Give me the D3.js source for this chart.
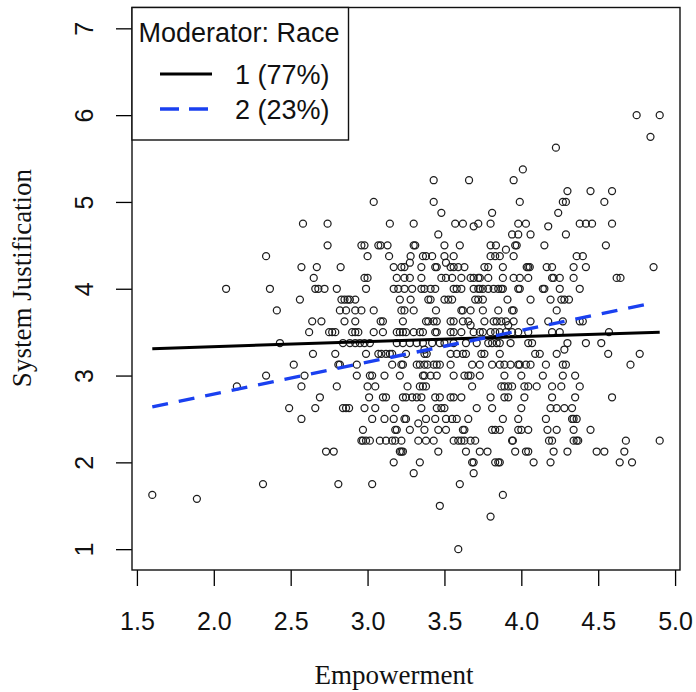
<!DOCTYPE html>
<html><head><meta charset="utf-8">
<script src="https://cdn.jsdelivr.net/npm/d3@7"></script>
<style>
html,body{margin:0;padding:0;background:#fff;}
svg{display:block;}
</style></head>
<body>
<svg id="chart" width="696" height="692"></svg>
<script>
// ---- DATA ----
const xTicks = [1.5, 2.0, 2.5, 3.0, 3.5, 4.0, 4.5, 5.0];
const yTicks = [1, 2, 3, 4, 5, 6, 7];
const xTitle = "Empowerment";
const yTitle = "System Justification";
const legendTitle = "Moderator: Race";
const legendLabels = ["1 (77%)", "2 (23%)"];

// System Justification levels (y) and the Empowerment values (x) observed at each level
const sjLevels = [6.0, 5.75, 5.625, 5.375, 5.25, 5.125, 5.0, 4.875, 4.75, 4.72, 4.625, 4.5, 4.45, 4.375, 4.3, 4.25, 4.125, 4.0,
  3.875, 3.75, 3.625, 3.58, 3.5, 3.375, 3.3, 3.25, 3.125, 3.0, 2.875, 2.75, 2.625, 2.5, 2.45, 2.375, 2.25, 2.125, 2.0,
  1.875, 1.75, 1.625, 1.58, 1.5, 1.375, 1.0];
const empByLevel = [
  [4.75, 4.90],
  [4.84],
  [4.225],
  [4.01],
  [3.43, 3.66, 3.95],
  [4.30, 4.45, 4.59],
  [3.04, 3.43, 3.99, 4.27, 4.29, 4.54],
  [3.48, 3.81, 4.24],
  [2.58, 2.74, 3.145, 3.30, 3.57, 3.62, 3.72, 3.80, 3.98, 4.03, 4.38, 4.42, 4.46, 4.59],
  [3.69, 4.175],
  [3.46, 3.94, 3.98, 4.06, 4.29],
  [2.74, 2.96, 2.98, 3.07, 3.085, 3.13, 3.30, 3.31, 3.50, 3.60, 3.80, 3.835, 3.96, 3.97, 4.15, 4.55],
  [3.90],
  [2.34, 3.00, 3.14, 3.28, 3.36, 3.38, 3.42, 3.50, 3.56, 3.80, 3.83, 3.86, 3.95, 4.36, 4.40],
  [3.275, 3.51],
  [2.57, 2.67, 2.825, 3.17, 3.22, 3.24, 3.35, 3.44, 3.45, 3.54, 3.56, 3.59, 3.63, 3.76, 3.785, 3.88, 4.035, 4.045, 4.055, 4.165, 4.20, 4.34, 4.42, 4.86],
  [2.65, 2.98, 3.00, 3.19, 3.24, 3.275, 3.35, 3.48, 3.51, 3.55, 3.61, 3.67, 3.69, 3.72, 3.73, 3.785, 3.88, 3.95, 3.99, 4.045, 4.20, 4.21, 4.25, 4.34, 4.62, 4.645],
  [2.08, 2.365, 2.66, 2.68, 2.72, 2.80, 2.99, 3.17, 3.20, 3.24, 3.29, 3.35, 3.37, 3.41, 3.44, 3.56, 3.58, 3.61, 3.69, 3.72, 3.73, 3.75, 3.785, 3.82, 3.85, 3.87, 3.88, 3.98, 3.99, 4.14, 4.15, 4.25, 4.38],
  [2.56, 2.83, 2.85, 2.87, 2.885, 2.92, 3.21, 3.28, 3.395, 3.41, 3.50, 3.525, 3.55, 3.70, 3.72, 3.75, 3.91, 4.06, 4.19, 4.26, 4.28, 4.31],
  [2.41, 2.82, 2.86, 2.92, 2.96, 3.04, 3.22, 3.24, 3.30, 3.445, 3.61, 3.62, 3.67, 3.75, 3.85, 3.94, 3.95, 4.23],
  [2.64, 2.70, 2.85, 2.92, 3.085, 3.10, 3.23, 3.38, 3.395, 3.43, 3.45, 3.54, 3.56, 3.62, 3.655, 3.76, 3.82, 3.84, 3.87, 3.90, 3.95, 4.06, 4.175, 4.27, 4.38, 4.40],
  [3.67, 3.915],
  [2.62, 2.75, 2.77, 2.79, 2.90, 2.92, 2.94, 3.04, 3.10, 3.19, 3.21, 3.23, 3.25, 3.30, 3.34, 3.36, 3.44, 3.45, 3.54, 3.56, 3.61, 3.69, 3.73, 3.75, 3.80, 3.83, 3.86, 3.90, 3.94, 3.98, 4.045, 4.20, 4.25, 4.57],
  [2.43, 2.84, 2.885, 2.92, 2.95, 2.98, 3.015, 3.19, 3.23, 3.275, 3.32, 3.36, 3.42, 3.47, 3.50, 3.56, 3.64, 3.71, 3.785, 3.81, 3.84, 3.86, 3.93, 4.045, 4.07, 4.30, 4.42, 4.52],
  [3.37, 4.28],
  [2.645, 2.79, 2.99, 3.07, 3.09, 3.12, 3.145, 3.16, 3.25, 3.37, 3.385, 3.54, 3.58, 3.62, 3.64, 3.74, 3.76, 3.86, 4.09, 4.12, 4.23, 4.565, 4.77],
  [2.52, 2.81, 2.82, 2.93, 3.16, 3.22, 3.23, 3.32, 3.34, 3.37, 3.39, 3.43, 3.45, 3.47, 3.54, 3.68, 3.73, 3.81, 3.86, 3.89, 3.93, 3.98, 3.99, 4.03, 4.06, 4.16, 4.27, 4.29, 4.71],
  [2.34, 2.59, 2.93, 3.015, 3.03, 3.11, 3.21, 3.36, 3.37, 3.41, 3.45, 3.56, 3.63, 3.655, 3.67, 3.73, 3.89, 4.00, 4.14, 4.27, 4.35],
  [2.15, 2.57, 2.80, 3.00, 3.05, 3.26, 3.34, 3.36, 3.38, 3.68, 3.87, 3.89, 3.915, 3.94, 4.02, 4.045, 4.10, 4.20, 4.26, 4.38],
  [2.69, 3.01, 3.10, 3.12, 3.23, 3.25, 3.29, 3.32, 3.35, 3.44, 3.47, 3.54, 3.56, 3.61, 3.80, 3.89, 3.915, 4.02, 4.20, 4.35, 4.59],
  [2.49, 2.66, 2.84, 2.86, 2.88, 2.98, 3.05, 3.18, 3.35, 3.45, 3.48, 3.50, 3.71, 3.81, 4.00, 4.19, 4.23, 4.28, 4.33],
  [2.57, 3.03, 3.11, 3.17, 3.24, 3.25, 3.38, 3.44, 3.51, 3.55, 3.58, 3.655, 3.88, 3.98, 4.16, 4.33, 4.34, 4.36],
  [3.33],
  [2.97, 3.18, 3.19, 3.275, 3.37, 3.46, 3.51, 3.62, 3.63, 3.81, 3.83, 3.86, 3.98, 4.00, 4.045, 4.17, 4.23, 4.34, 4.45],
  [2.96, 2.97, 2.99, 3.015, 3.08, 3.12, 3.16, 3.18, 3.22, 3.33, 3.38, 3.43, 3.56, 3.59, 3.61, 3.63, 3.67, 3.70, 3.94, 3.945, 4.18, 4.20, 4.34, 4.36, 4.37, 4.68, 4.90],
  [2.73, 2.78, 3.21, 3.22, 3.23, 3.46, 3.64, 3.73, 3.78, 3.96, 4.03, 4.045, 4.21, 4.30, 4.49, 4.54, 4.67],
  [3.17, 3.34, 3.68, 3.69, 3.83, 3.85, 3.86, 4.08, 4.19, 4.64, 4.72],
  [3.30, 3.69],
  [2.32, 2.81, 3.03, 3.60],
  [1.60, 3.88],
  [1.89],
  [3.47],
  [3.80],
  [3.59]
];

// Simple-slope lines for the two moderator groups
const lineX1 = [1.6, 4.9];
const lineY1 = [3.31, 3.50];   // group 1 (77%)
const lineX2 = [1.6, 4.84];
const lineY2 = [2.64, 3.83];   // group 2 (23%)

// ---- DRAW ----
const svg = d3.select("#chart");
const L = 132, R = 680, T = 7.5, B = 570;
const x = d3.scaleLinear().domain([1.468, 5.032]).range([L, R]);
const y = d3.scaleLinear().domain([0.76, 7.24]).range([B, T]);

const points = [];
sjLevels.forEach((lv, i) => empByLevel[i].forEach(e => points.push({x: e, y: lv})));

svg.append("g").selectAll("circle").data(points).enter().append("circle")
  .attr("cx", d => x(d.x)).attr("cy", d => y(d.y)).attr("r", 3.5)
  .attr("fill", "none").attr("stroke", "#1e1e1e").attr("stroke-width", 1.25);

const line = d3.line().x(d => x(d[0])).y(d => y(d[1]));
svg.append("path").datum(lineX1.map((v, i) => [v, lineY1[i]])).attr("d", line)
  .attr("fill", "none").attr("stroke", "#000").attr("stroke-width", 3);
svg.append("path").datum(lineX2.map((v, i) => [v, lineY2[i]])).attr("d", line)
  .attr("fill", "none").attr("stroke", "#1a40f0").attr("stroke-width", 3.4)
  .attr("stroke-dasharray", "16,11");

// axes
const xAxis = svg.append("g").attr("transform", `translate(0,${B})`)
  .call(d3.axisBottom(x).tickValues(xTicks).tickSize(16).tickPadding(26).tickFormat(d3.format(".1f")));
xAxis.select(".domain").remove();
xAxis.selectAll("line").attr("stroke", "#000").attr("stroke-width", 1.3);
xAxis.selectAll("text").attr("font-family", "Liberation Sans, Arial, Helvetica, sans-serif")
  .attr("font-size", 25).attr("fill", "#111");

const yAxis = svg.append("g").attr("transform", `translate(${L},0)`)
  .call(d3.axisLeft(y).tickValues(yTicks).tickSize(16).tickFormat(d3.format("d")));
yAxis.select(".domain").remove();
yAxis.selectAll("line").attr("stroke", "#000").attr("stroke-width", 1.3);
yAxis.selectAll("text").attr("font-family", "Liberation Sans, Arial, Helvetica, sans-serif")
  .attr("font-size", 25).attr("fill", "#111")
  .attr("transform", "rotate(-90)").attr("x", 0).attr("y", -39).attr("dy", null)
  .attr("text-anchor", "middle");

// box
svg.append("rect").attr("x", L).attr("y", T).attr("width", R - L).attr("height", B - T)
  .attr("fill", "none").attr("stroke", "#111").attr("stroke-width", 1.4);

// titles
svg.append("text").attr("x", 394).attr("y", 684).attr("text-anchor", "middle")
  .attr("font-family", "Liberation Serif, Times New Roman, serif").attr("font-size", 27)
  .attr("fill", "#111").text(xTitle);
svg.append("text").attr("transform", "translate(31,278) rotate(-90)").attr("text-anchor", "middle")
  .attr("font-family", "Liberation Serif, Times New Roman, serif").attr("font-size", 27)
  .attr("fill", "#111").text(yTitle);

// legend
const lg = svg.append("g");
lg.append("rect").attr("x", L).attr("y", T).attr("width", 216.5).attr("height", 132.5)
  .attr("fill", "#fff").attr("stroke", "#111").attr("stroke-width", 1.4);
lg.append("text").attr("x", 138.5).attr("y", 42).attr("font-family", "Liberation Sans, Arial, sans-serif")
  .attr("font-size", 27).attr("fill", "#111").text(legendTitle);
lg.append("line").attr("x1", 160).attr("x2", 212).attr("y1", 74).attr("y2", 74)
  .attr("stroke", "#000").attr("stroke-width", 3);
lg.append("line").attr("x1", 160).attr("x2", 212).attr("y1", 109).attr("y2", 109)
  .attr("stroke", "#1a40f0").attr("stroke-width", 3.4).attr("stroke-dasharray", "19,10");
legendLabels.forEach((t, i) => {
  lg.append("text").attr("x", 235).attr("y", 84 + i * 35).attr("font-family", "Liberation Sans, Arial, sans-serif")
    .attr("font-size", 27).attr("fill", "#111").text(t);
});
</script>
</body></html>
